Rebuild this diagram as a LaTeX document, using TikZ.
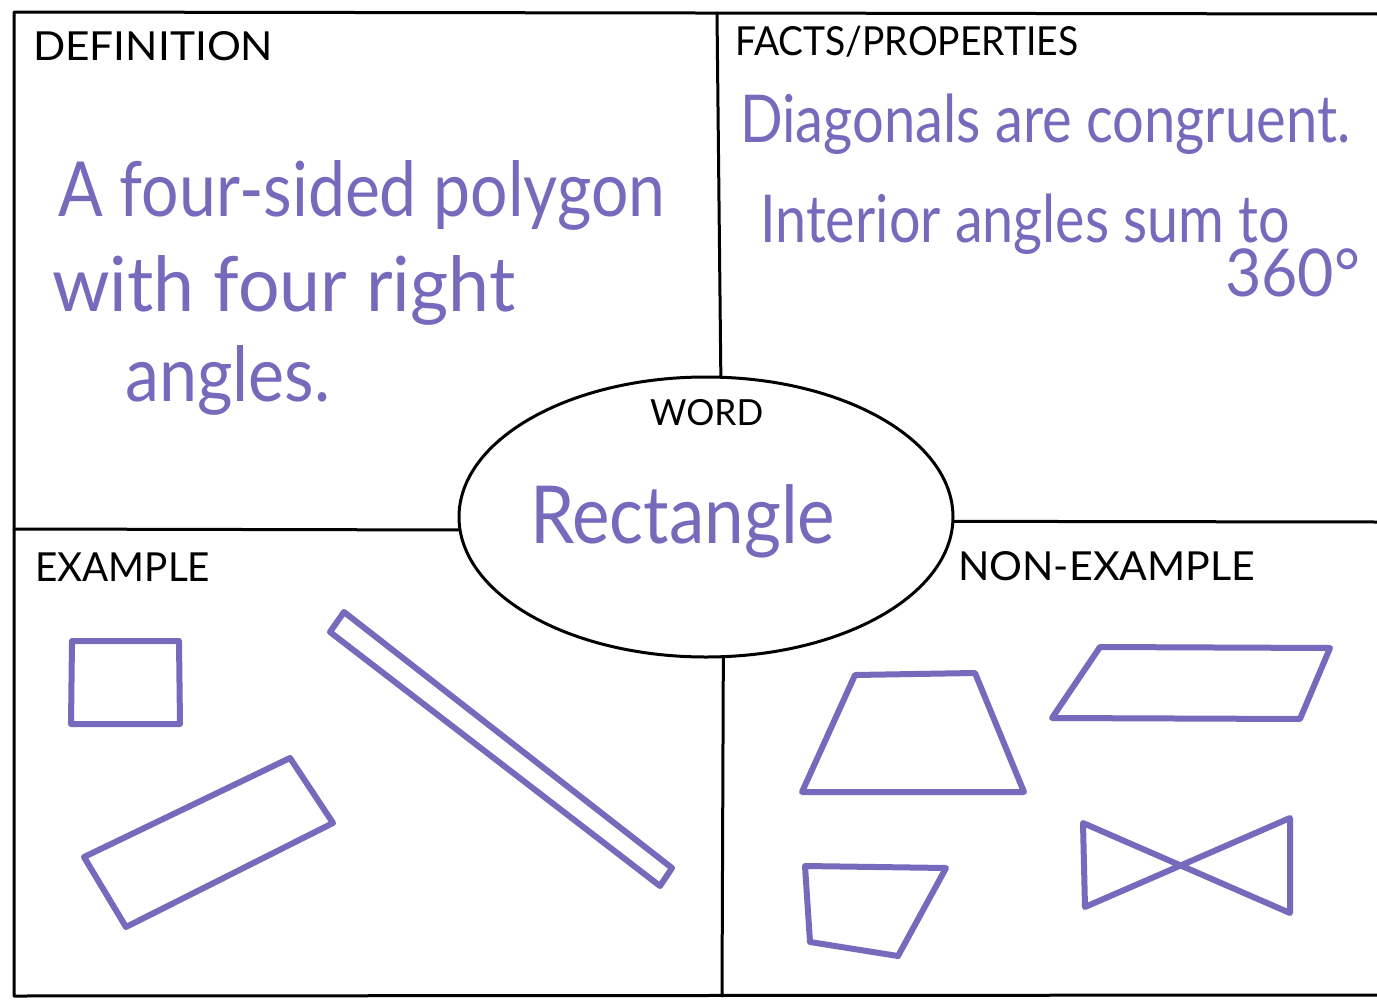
\documentclass[tikz,border=0pt]{standalone}
\usepackage{fontspec}
\setmainfont{Lato}
\usetikzlibrary{shapes.geometric}
\definecolor{pen}{RGB}{118,106,188}
\newcommand{\fitto}[2]{\resizebox{#1}{\height}{#2}}
\begin{document}
\begin{tikzpicture}[x=1pt,y=-1pt,
  frameline/.style={line width=3pt, black, line cap=round, line join=round},
  penline/.style={line width=6pt, pen, line cap=round, line join=round},
  headtxt/.style={anchor=base west, inner sep=0pt, black, font=\fontsize{40}{40}\selectfont},
  bigtxt/.style={anchor=base west, inner sep=0pt, pen, font=\fontsize{76}{76}\selectfont}]
\useasboundingbox (0,0) rectangle (1377,1001);
\fill[white] (0,0) rectangle (1377,1001);
% frame coordinates
\coordinate (tl) at (14,12);
\coordinate (tr) at (1377,14);
\coordinate (bl) at (14,996);
\coordinate (br) at (1377,995);
\coordinate (topmid) at (717,13);
\coordinate (botmid) at (722,996);
\coordinate (leftmid) at (14,529);
\coordinate (rightmid) at (1377,522);
\draw[frameline] (tr) -- (tl) -- (bl) -- (br);
% central ellipse
\node[ellipse, draw, line width=3pt, minimum width=494pt, minimum height=280pt, inner sep=0pt] (word) at (706,517) {};
\draw[frameline] (topmid) -- (word.84);
\draw[frameline] (word.-83) -- (botmid);
\draw[frameline] (leftmid) -- (word.183);
\draw[frameline] (word.-1) -- (rightmid);
% headings
\node[headtxt] (hdef) at (33,60) {\fitto{240pt}{DEFINITION}};
\node[headtxt] (hfacts) at (735,56) {\fitto{343pt}{FACTS/PROPERTIES}};
\node[headtxt, font=\fontsize{36}{36}\selectfont] (hword) at (650,425) {\fitto{113pt}{WORD}};
\node[headtxt] (hex) at (35,581) {\fitto{175pt}{EXAMPLE}};
\node[headtxt] (hnon) at (958,580) {\fitto{297pt}{NON-EXAMPLE}};
% definition text
\node[bigtxt] (d1) at (58,216) {\fitto{607pt}{A four-sided polygon}};
\node[bigtxt] (d2) at (52,311) {\fitto{463pt}{with four right}};
\node[bigtxt] (d3) at (125,401) {\fitto{205pt}{angles.}};
% facts text
\node[bigtxt, font=\fontsize{66}{66}\selectfont] (f1) at (740,142) {\fitto{610pt}{Diagonals are congruent.}};
\node[bigtxt, font=\fontsize{66}{66}\selectfont] (f2) at (760,242) {\fitto{530pt}{Interior angles sum to}};
\node[bigtxt, font=\fontsize{66}{66}\selectfont] (f3) at (1225,296) {\fitto{135pt}{360°}};
% word
\node[bigtxt, font=\fontsize{80}{80}\selectfont] (rect) at (530,543) {\fitto{305pt}{Rectangle}};
% examples
\draw[penline] (72,641) -- (179,641) -- (180,724) -- (71,724) -- cycle;
\draw[penline] (84,857) -- (290,758) -- (333,823) -- (126,927) -- cycle;
\draw[penline] (344,612) -- (672,868) -- (660,886) -- (330,632) -- cycle;
% non-examples
\draw[penline] (855,675) -- (975,673) -- (1024,792) -- (802,792) -- cycle;
\draw[penline] (1100,647) -- (1330,648) -- (1300,719) -- (1052,718) -- cycle;
\draw[penline] (805,866) -- (946,868) -- (898,956) -- (810,942) -- cycle;
\draw[penline] (1083,823) -- (1290,913) -- (1290,818) -- (1085,907) -- cycle;
\end{tikzpicture}
\end{document}
